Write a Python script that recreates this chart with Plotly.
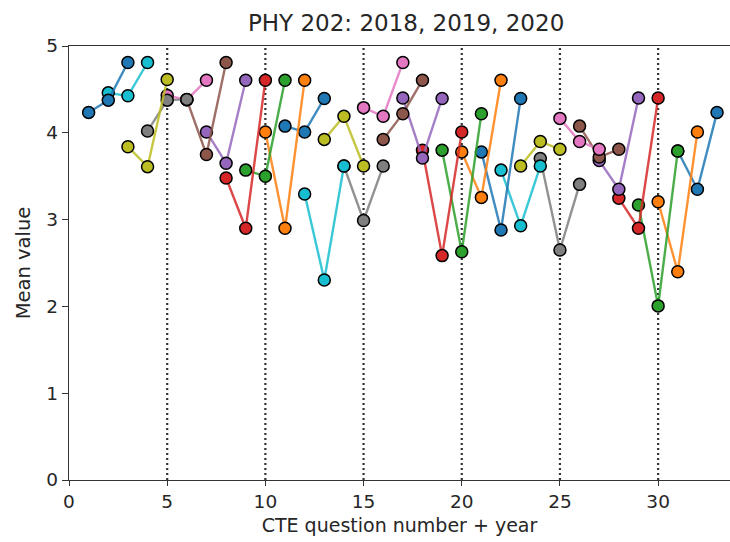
import plotly.graph_objects as go

# Mean CTE response per question, for the three course years
questions = list(range(1, 32))
years = ["2018", "2019", "2020"]
mean_2018 = [4.235, 4.46, 3.84, 4.02, 4.43, 4.38, 4.01, 3.48, 3.57, 4.01,
             4.077, 3.295, 3.924, 3.617, 4.29, 3.924, 4.40, 3.80, 3.80, 3.78,
             3.78, 3.57, 3.617, 3.705, 4.166, 4.077, 3.68, 3.245, 3.168, 3.206,
             3.79]
mean_2019 = [4.376, 4.426, 3.61, 4.376, 4.38, 3.75, 3.65, 2.90, 3.50, 2.90,
             4.01, 2.305, 4.19, 2.99, 4.19, 4.22, 3.71, 2.585, 2.63, 3.256,
             2.88, 2.93, 3.90, 2.65, 3.90, 3.72, 3.35, 2.90, 2.006, 2.40,
             3.35]
mean_2020 = [4.81, 4.81, 4.615, 4.385, 4.606, 4.81, 4.606, 4.606, 4.606, 4.606,
             4.396, 3.617, 3.617, 3.617, 4.81, 4.606, 4.396, 4.01, 4.22, 4.606,
             4.396, 3.617, 3.81, 3.406, 3.81, 3.81, 4.40, 4.40, 3.79, 4.01,
             4.235]
divider_x = [5, 10, 15, 20, 25, 30]

palette = ["#1f77b4", "#ff7f0e", "#2ca02c", "#d62728", "#9467bd",
           "#8c564b", "#e377c2", "#7f7f7f", "#bcbd22", "#17becf"]


def rgba(hex_color, a):
    h = hex_color.lstrip("#")
    r, g, b = int(h[0:2], 16), int(h[2:4], 16), int(h[4:6], 16)
    return f"rgba({r},{g},{b},{a})"


fig = go.Figure()

# last question drawn first so that earlier questions sit on top
for i in reversed(range(len(questions))):
    q = questions[i]
    color = palette[(len(questions) - 1 - i) % 10]
    fig.add_trace(go.Scatter(
        x=[q, q + 1, q + 2],
        y=[mean_2018[i], mean_2019[i], mean_2020[i]],
        mode="lines+markers",
        line=dict(color=rgba(color, 0.85), width=2.4),
        marker=dict(size=12, color=color, line=dict(color="black", width=1.5)),
        name=f"Q{q}",
        text=years,
        showlegend=False,
    ))

for xv in divider_x:
    fig.add_shape(type="line", xref="x", yref="y", x0=xv, x1=xv, y0=0, y1=5,
                  line=dict(color="#333333", width=2.2, dash="2px,3px"),
                  layer="below")

font_family = "DejaVu Sans"
text_color = "#262626"
fig.update_layout(
    width=730, height=542,
    margin=dict(l=69, r=0, t=46, b=62),
    paper_bgcolor="white", plot_bgcolor="white",
    font=dict(family=font_family, size=18, color=text_color),
    title=dict(text="PHY 202: 2018, 2019, 2020", xref="paper", x=0.51,
               xanchor="center", y=1 - 23 / 542, yanchor="middle",
               font=dict(size=23, color=text_color)),
)
fig.update_xaxes(
    range=[0, 33.66], tickvals=[0, 5, 10, 15, 20, 25, 30],
    showgrid=False, zeroline=False,
    showline=True, linecolor="#333333", linewidth=1.3, mirror=True,
    ticks="outside", ticklen=5, tickwidth=1.2, tickcolor="#333333",
    tickfont=dict(size=18.5),
    title=dict(text="CTE question number + year", font=dict(size=19), standoff=7),
)
fig.update_yaxes(
    range=[0, 5], tickvals=[0, 1, 2, 3, 4, 5],
    showgrid=False, zeroline=False,
    showline=True, linecolor="#333333", linewidth=1.3,
    ticks="outside", ticklen=6, tickwidth=1.2, tickcolor="#333333",
    tickfont=dict(size=18.5),
    title=dict(text="Mean value", font=dict(size=19.5), standoff=10),
)

fig.write_html("out.html")
